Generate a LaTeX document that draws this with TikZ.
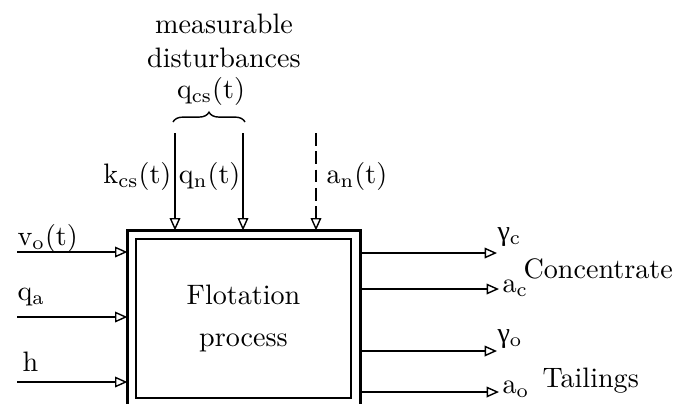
\documentclass[tikz,border=0pt]{standalone}
\usepackage{fontspec}
\newfontfamily\grkfont{Liberation Serif}
\usetikzlibrary{arrows.meta,positioning,decorations.pathreplacing}

\begin{document}
\begin{tikzpicture}[
    x=0.0125cm, y=-0.0125cm,
    signal/.style={
      -{Triangle[open,length=4.4pt,width=3.8pt]},
      line width=0.5pt
    },
    frame/.style={line width=0.9pt},
    procbox/.style={
      draw,
      line width=0.6pt,
      minimum width=2.6875cm,
      minimum height=1.9875cm,
      align=center,
      inner sep=0pt
    },
    lbl/.style={inner sep=0pt, anchor=base west},
    bracket/.style={
      decorate,
      decoration={brace,amplitude=3.5pt},
      line width=0.5pt
    }]
  \useasboundingbox (0,0) rectangle (678,403);

  % Process block (outer frame is open at the bottom)
  \node[minimum width=2.9cm,minimum height=2.15cm,inner sep=0pt] (box) at (244,317) {};
  \draw[frame] (box.south west) |- (box.north east) -- (box.south east);
  \node[procbox] (proc) at (243.5,318.5) {Flotation\\[3pt]process};

  % Inputs on the left
  \coordinate (vo) at (17,252);
  \coordinate (qa) at (17,317);
  \coordinate (hh) at (17,382);
  \draw[signal] (vo) -- (vo -| box.west);
  \draw[signal] (qa) -- (qa -| box.west);
  \draw[signal] (hh) -- (hh -| box.west);
  \node[lbl] (volbl) at (17,245) {v\textsubscript{o}(t)};
  \node[lbl] (qalbl) at (17,300) {q\textsubscript{a}};
  \node[lbl] (hlbl) at (22,371) {h};

  % Disturbances from above
  \coordinate (kcs) at (175,133);
  \coordinate (qn) at (243,133);
  \coordinate (an) at (316,133);
  \draw[signal] (kcs) -- (kcs |- box.north);
  \draw[signal] (qn) -- (qn |- box.north);
  \draw[signal,dash pattern=on 4.5pt off 2pt] (an) -- (an |- box.north);
  \node[lbl,anchor=base east] (kcslbl) at (172,183) {k\textsubscript{cs}(t)};
  \node[lbl,anchor=base east] (qnlbl) at (241,183) {q\textsubscript{n}(t)};
  \node[lbl] (anlbl) at (326,183) {a\textsubscript{n}(t)};

  % Measurable group
  \draw[bracket] (173,122) -- (245,122);
  \node[lbl,anchor=base] (qcslbl) at (211,98) {q\textsubscript{cs}(t)};
  \node[lbl,anchor=base,align=center] (meas) at (224,67) {measurable\\disturbances};

  % Outputs on the right
  \coordinate (gc) at (497,253);
  \coordinate (ac) at (499,289);
  \coordinate (go) at (497,351);
  \coordinate (ao) at (499,392);
  \draw[signal] (gc -| box.east) -- (gc);
  \draw[signal] (ac -| box.east) -- (ac);
  \draw[signal] (go -| box.east) -- (go);
  \draw[signal] (ao -| box.east) -- (ao);
  \node[lbl] (gclbl) at (497,240) {{\grkfont γ}\textsubscript{c}};
  \node[lbl] (aclbl) at (502,292) {a\textsubscript{c}};
  \node[lbl] (golbl) at (497,342) {{\grkfont γ}\textsubscript{o}};
  \node[lbl] (aolbl) at (502,393) {a\textsubscript{o}};
  \node[lbl] (conc) at (523,278) {Concentrate};
  \node[lbl] (tail) at (542,387) {Tailings};
\end{tikzpicture}
\end{document}
